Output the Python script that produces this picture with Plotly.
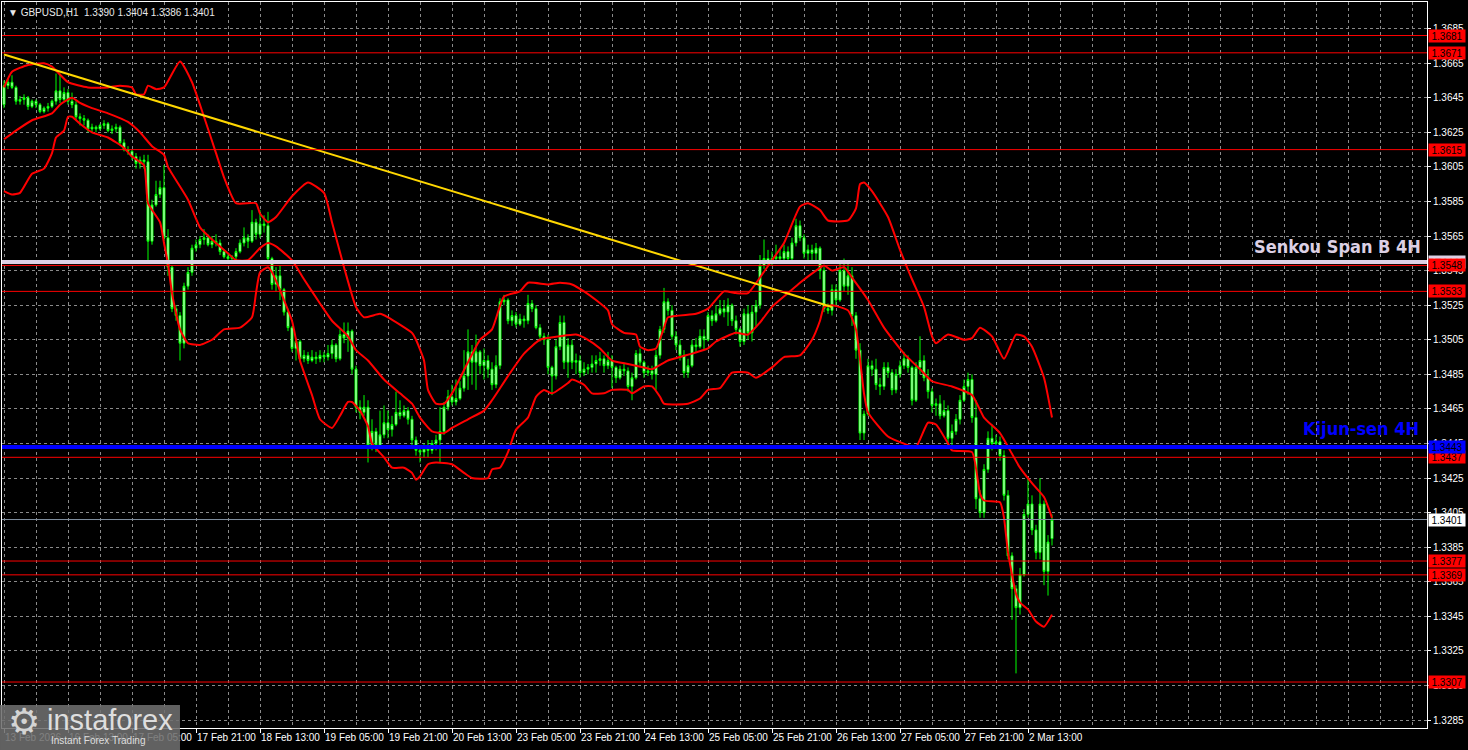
import plotly.graph_objects as go

# ---------------- data (GBPUSD H1) ----------------
opens = [
    1.3641,1.3652,1.3654,1.3651,1.3643,1.3644,1.3645,1.3640,1.3643,1.3641,
    1.3637,1.3639,1.3640,1.3643,1.3649,1.3644,1.3648,1.3643,1.3641,1.3634,
    1.3633,1.3632,1.3627,1.3628,1.3627,1.3629,1.3630,1.3626,1.3627,1.3628,
    1.3619,1.3615,1.3614,1.3611,1.3607,1.3609,1.3608,1.3562,1.3583,1.3589,
    1.3593,1.3564,1.3547,1.3523,1.3519,1.3503,1.3536,1.3544,1.3558,1.3560,
    1.3563,1.3564,1.3560,1.3562,1.3561,1.3556,1.3553,1.3552,1.3553,1.3556,
    1.3561,1.3564,1.3562,1.3573,1.3566,1.3572,1.3571,1.3552,1.3537,1.3542,
    1.3534,1.3521,1.3512,1.3500,1.3504,1.3494,1.3496,1.3493,1.3495,1.3494,
    1.3496,1.3495,1.3497,1.3502,1.3494,1.3508,1.3506,1.3510,1.3488,1.3466,
    1.3463,1.3466,1.3444,1.3452,1.3444,1.3450,1.3457,1.3453,1.3456,1.3463,
    1.3461,1.3464,1.3459,1.3447,1.3441,1.3440,1.3442,1.3441,1.3445,1.3447,
    1.3452,1.3466,1.3472,1.3469,1.3471,1.3477,1.3484,1.3498,1.3492,1.3498,
    1.3490,1.3493,1.3488,1.3479,1.3490,1.3527,1.3528,1.3516,1.3519,1.3514,
    1.3517,1.3516,1.3526,1.3523,1.3512,1.3507,1.3505,1.3489,1.3484,1.3501,
    1.3515,1.3492,1.3502,1.3492,1.3493,1.3486,1.3488,1.3489,1.3491,1.3493,
    1.3494,1.3490,1.3493,1.3489,1.3483,1.3488,1.3487,1.3478,1.3483,1.3497,
    1.3492,1.3486,1.3487,1.3485,1.3496,1.3511,1.3527,1.3522,1.3507,1.3502,
    1.3496,1.3486,1.3490,1.3502,1.3501,1.3507,1.3505,1.3519,1.3516,1.3520,
    1.3523,1.3521,1.3525,1.3516,1.3511,1.3504,1.3520,1.3509,1.3521,1.3525,
    1.3548,1.3552,1.3550,1.3552,1.3553,1.3552,1.3556,1.3552,1.3561,1.3571,
    1.3564,1.3555,1.3557,1.3555,1.3558,1.3545,1.3523,1.3522,1.3534,1.3528,
    1.3545,1.3536,1.3542,1.3519,1.3499,1.3451,1.3462,1.3490,1.3488,1.3479,
    1.3478,1.3489,1.3486,1.3476,1.3485,1.3490,1.3494,1.3489,1.3470,1.3489,
    1.3493,1.3483,1.3475,1.3467,1.3468,1.3461,1.3464,1.3448,1.3452,1.3459,
    1.3470,1.3478,1.3482,1.3460,1.3413,1.3405,1.3430,1.3448,1.3445,1.3446,
    1.3438,1.3415,1.3380,1.3361,1.3350,1.3369,1.3404,1.3410,1.3395,1.3382,
    1.3410,1.3371,1.3390,
]
highs = [
    1.3655,1.3656,1.3658,1.3652,1.3646,1.3647,1.3646,1.3644,1.3644,1.3642,
    1.3640,1.3642,1.3644,1.3659,1.3659,1.3651,1.3650,1.3648,1.3643,1.3636,
    1.3635,1.3633,1.3630,1.3629,1.3630,1.3632,1.3631,1.3629,1.3630,1.3629,
    1.3621,1.3617,1.3615,1.3613,1.3611,1.3612,1.3612,1.3586,1.3597,1.3597,
    1.3606,1.3569,1.3548,1.3525,1.3521,1.3538,1.3547,1.3560,1.3563,1.3565,
    1.3569,1.3566,1.3565,1.3566,1.3563,1.3557,1.3555,1.3554,1.3558,1.3563,
    1.3570,1.3566,1.3580,1.3575,1.3580,1.3577,1.3579,1.3553,1.3547,1.3548,
    1.3535,1.3523,1.3513,1.3506,1.3505,1.3499,1.3498,1.3499,1.3498,1.3499,
    1.3498,1.3502,1.3505,1.3503,1.3511,1.3515,1.3515,1.3511,1.3490,1.3470,
    1.3473,1.3470,1.3459,1.3454,1.3464,1.3467,1.3464,1.3461,1.3475,1.3470,
    1.3467,1.3466,1.3461,1.3449,1.3444,1.3445,1.3447,1.3447,1.3450,1.3466,
    1.3469,1.3476,1.3479,1.3482,1.3481,1.3499,1.3511,1.3502,1.3508,1.3499,
    1.3500,1.3496,1.3492,1.3496,1.3529,1.3531,1.3529,1.3522,1.3521,1.3520,
    1.3519,1.3531,1.3528,1.3525,1.3514,1.3509,1.3508,1.3490,1.3505,1.3519,
    1.3519,1.3506,1.3505,1.3497,1.3496,1.3492,1.3491,1.3496,1.3496,1.3498,
    1.3496,1.3498,1.3496,1.3490,1.3490,1.3491,1.3489,1.3486,1.3499,1.3500,
    1.3493,1.3490,1.3490,1.3499,1.3513,1.3535,1.3529,1.3525,1.3510,1.3505,
    1.3499,1.3494,1.3505,1.3506,1.3511,1.3511,1.3521,1.3522,1.3525,1.3528,
    1.3528,1.3529,1.3526,1.3519,1.3512,1.3523,1.3525,1.3525,1.3528,1.3554,
    1.3563,1.3557,1.3556,1.3560,1.3558,1.3560,1.3559,1.3564,1.3575,1.3574,
    1.3566,1.3560,1.3560,1.3561,1.3559,1.3547,1.3526,1.3537,1.3537,1.3551,
    1.3552,1.3551,1.3547,1.3521,1.3503,1.3464,1.3494,1.3493,1.3494,1.3483,
    1.3492,1.3492,1.3488,1.3488,1.3493,1.3498,1.3496,1.3490,1.3492,1.3507,
    1.3496,1.3488,1.3477,1.3471,1.3473,1.3470,1.3467,1.3456,1.3462,1.3473,
    1.3482,1.3486,1.3485,1.3470,1.3418,1.3433,1.3452,1.3456,1.3450,1.3449,
    1.3441,1.3418,1.3382,1.3363,1.3373,1.3407,1.3425,1.3415,1.3398,1.3425,
    1.3412,1.3392,1.3404,
]
lows = [
    1.3639,1.3650,1.3650,1.3641,1.3641,1.3641,1.3638,1.3639,1.3639,1.3636,
    1.3636,1.3637,1.3639,1.3641,1.3642,1.3643,1.3641,1.3639,1.3632,1.3629,
    1.3629,1.3625,1.3625,1.3625,1.3626,1.3627,1.3625,1.3624,1.3625,1.3618,
    1.3614,1.3612,1.3609,1.3604,1.3604,1.3604,1.3551,1.3560,1.3582,1.3587,
    1.3562,1.3542,1.3521,1.3516,1.3493,1.3500,1.3534,1.3542,1.3556,1.3558,
    1.3560,1.3559,1.3558,1.3559,1.3554,1.3552,1.3550,1.3549,1.3551,1.3555,
    1.3559,1.3558,1.3561,1.3563,1.3564,1.3567,1.3550,1.3534,1.3533,1.3528,
    1.3519,1.3510,1.3498,1.3493,1.3492,1.3492,1.3491,1.3492,1.3491,1.3492,
    1.3492,1.3493,1.3494,1.3492,1.3493,1.3503,1.3498,1.3485,1.3463,1.3459,
    1.3461,1.3434,1.3441,1.3440,1.3442,1.3448,1.3448,1.3449,1.3455,1.3459,
    1.3460,1.3456,1.3444,1.3438,1.3434,1.3437,1.3437,1.3439,1.3441,1.3434,
    1.3450,1.3464,1.3467,1.3467,1.3470,1.3475,1.3476,1.3479,1.3476,1.3485,
    1.3482,1.3483,1.3476,1.3477,1.3488,1.3525,1.3514,1.3513,1.3512,1.3513,
    1.3512,1.3514,1.3521,1.3511,1.3504,1.3502,1.3485,1.3473,1.3482,1.3499,
    1.3488,1.3483,1.3488,1.3485,1.3483,1.3484,1.3485,1.3486,1.3486,1.3490,
    1.3486,1.3488,1.3477,1.3480,1.3482,1.3484,1.3475,1.3470,1.3482,1.3490,
    1.3483,1.3484,1.3482,1.3476,1.3494,1.3509,1.3519,1.3505,1.3499,1.3493,
    1.3483,1.3483,1.3489,1.3498,1.3500,1.3499,1.3504,1.3513,1.3515,1.3519,
    1.3518,1.3513,1.3513,1.3508,1.3501,1.3502,1.3505,1.3504,1.3513,1.3523,
    1.3546,1.3548,1.3548,1.3550,1.3550,1.3551,1.3550,1.3551,1.3559,1.3562,
    1.3552,1.3551,1.3551,1.3550,1.3540,1.3521,1.3520,1.3519,1.3525,1.3527,
    1.3533,1.3531,1.3513,1.3494,1.3447,1.3447,1.3461,1.3484,1.3476,1.3473,
    1.3476,1.3483,1.3473,1.3474,1.3483,1.3488,1.3486,1.3467,1.3469,1.3485,
    1.3481,1.3471,1.3463,1.3461,1.3459,1.3460,1.3444,1.3442,1.3450,1.3456,
    1.3469,1.3473,1.3457,1.3407,1.3402,1.3402,1.3428,1.3441,1.3442,1.3435,
    1.3412,1.3378,1.3343,1.3312,1.3346,1.3368,1.3402,1.3392,1.3378,1.3378,
    1.3363,1.3357,1.3386,
]
closes = [
    1.3652,1.3654,1.3651,1.3643,1.3644,1.3645,1.3640,1.3643,1.3641,1.3637,
    1.3639,1.3640,1.3643,1.3649,1.3644,1.3648,1.3643,1.3641,1.3634,1.3633,
    1.3632,1.3627,1.3628,1.3627,1.3629,1.3630,1.3626,1.3627,1.3628,1.3619,
    1.3615,1.3614,1.3611,1.3607,1.3609,1.3608,1.3562,1.3583,1.3589,1.3593,
    1.3564,1.3547,1.3523,1.3519,1.3503,1.3536,1.3544,1.3558,1.3560,1.3563,
    1.3564,1.3560,1.3562,1.3561,1.3556,1.3553,1.3552,1.3553,1.3556,1.3561,
    1.3564,1.3562,1.3573,1.3566,1.3572,1.3571,1.3552,1.3537,1.3542,1.3534,
    1.3521,1.3512,1.3500,1.3504,1.3494,1.3496,1.3493,1.3495,1.3494,1.3496,
    1.3495,1.3497,1.3502,1.3494,1.3508,1.3506,1.3510,1.3488,1.3466,1.3463,
    1.3466,1.3444,1.3452,1.3444,1.3450,1.3457,1.3453,1.3456,1.3463,1.3461,
    1.3464,1.3459,1.3447,1.3441,1.3440,1.3442,1.3441,1.3445,1.3447,1.3452,
    1.3466,1.3472,1.3469,1.3471,1.3477,1.3484,1.3498,1.3492,1.3498,1.3490,
    1.3493,1.3488,1.3479,1.3490,1.3527,1.3528,1.3516,1.3519,1.3514,1.3517,
    1.3516,1.3526,1.3523,1.3512,1.3507,1.3505,1.3489,1.3484,1.3501,1.3515,
    1.3492,1.3502,1.3492,1.3493,1.3486,1.3488,1.3489,1.3491,1.3493,1.3494,
    1.3490,1.3493,1.3489,1.3483,1.3488,1.3487,1.3478,1.3483,1.3497,1.3492,
    1.3486,1.3487,1.3485,1.3496,1.3511,1.3527,1.3522,1.3507,1.3502,1.3496,
    1.3486,1.3490,1.3502,1.3501,1.3507,1.3505,1.3519,1.3516,1.3520,1.3523,
    1.3521,1.3525,1.3516,1.3511,1.3504,1.3520,1.3509,1.3521,1.3525,1.3548,
    1.3552,1.3550,1.3552,1.3553,1.3552,1.3556,1.3552,1.3561,1.3571,1.3564,
    1.3555,1.3557,1.3555,1.3558,1.3545,1.3523,1.3522,1.3534,1.3528,1.3545,
    1.3536,1.3542,1.3519,1.3499,1.3451,1.3462,1.3490,1.3488,1.3479,1.3478,
    1.3489,1.3486,1.3476,1.3485,1.3490,1.3494,1.3489,1.3470,1.3489,1.3493,
    1.3483,1.3475,1.3467,1.3468,1.3461,1.3464,1.3448,1.3452,1.3459,1.3470,
    1.3478,1.3482,1.3460,1.3413,1.3405,1.3430,1.3448,1.3445,1.3446,1.3438,
    1.3415,1.3380,1.3361,1.3350,1.3369,1.3404,1.3410,1.3395,1.3382,1.3410,
    1.3371,1.3388,1.3401,
]
bars = list(range(len(closes)))

# Bollinger-type envelope (bar index, price)
upper_x = [0,2,6,10,12,16,21,26,29,32,33,35,36,38,40,44,47,50,53,55,58,63,64,66,68,72,76,80,82,85,88,90,94,96,
           102,103,105,106,108,110,112,116,119,122,125,129,131,136,139,142,145,148,151,152,155,158,159,161,163,
           165,166,173,176,180,183,186,189,192,195,199,201,204,206,211,213,214,215,217,221,224,227,230,232,233,
           236,240,242,244,247,250,253,255,257,260,262]
upper_y = [1.3651,1.3660,1.3664,1.3665,1.3663,1.3654,1.3651,1.3651,1.3652,1.3651,1.3647,1.3647,1.3652,1.3650,
           1.3651,1.3666,1.3654,1.3634,1.3613,1.3599,1.3584,1.3584,1.3578,1.3573,1.3576,1.3588,1.3596,1.3590,
           1.3573,1.3547,1.3524,1.3518,1.3520,1.3518,1.3509,1.3505,1.3493,1.3476,1.3468,1.3468,1.3474,1.3492,
           1.3505,1.3511,1.3530,1.3533,1.3538,1.3537,1.3538,1.3537,1.3533,1.3528,1.3522,1.3514,1.3509,1.3508,
           1.3501,1.3499,1.3500,1.3512,1.3518,1.3520,1.3523,1.3533,1.3532,1.3532,1.3541,1.3551,1.3561,1.3582,
           1.3584,1.3580,1.3574,1.3574,1.3581,1.3595,1.3596,1.3591,1.3576,1.3557,1.3540,1.3524,1.3507,1.3503,
           1.3508,1.3505,1.3506,1.3512,1.3507,1.3494,1.3508,1.3507,1.3501,1.3483,1.3460]
middle_x = [0,3,7,12,14,17,19,22,26,31,34,37,40,41,46,49,52,56,58,61,64,66,68,72,75,79,82,86,88,91,95,99,102,
            104,107,110,112,116,120,122,126,130,134,139,143,146,149,152,156,160,162,166,169,172,176,178,183,186,
            189,192,196,199,203,205,207,210,212,216,220,225,229,232,237,242,245,249,252,254,257,260,262]
middle_y = [1.3621,1.3626,1.3632,1.3636,1.3641,1.3645,1.3642,1.3639,1.3636,1.3631,1.3625,1.3617,1.3612,1.3605,
            1.3586,1.3570,1.3563,1.3555,1.3551,1.3551,1.3558,1.3561,1.3559,1.3551,1.3540,1.3526,1.3516,1.3507,
            1.3499,1.3493,1.3482,1.3474,1.3468,1.3460,1.3452,1.3451,1.3454,1.3459,1.3464,1.3470,1.3484,1.3497,
            1.3505,1.3507,1.3508,1.3505,1.3500,1.3493,1.3491,1.3489,1.3488,1.3493,1.3495,1.3497,1.3500,1.3504,
            1.3509,1.3508,1.3515,1.3524,1.3532,1.3538,1.3545,1.3548,1.3545,1.3547,1.3541,1.3528,1.3512,1.3497,
            1.3488,1.3481,1.3478,1.3473,1.3460,1.3451,1.3439,1.3431,1.3422,1.3414,1.3402]
lower_x = [0,2,4,7,10,12,13,15,16,17,19,22,26,30,32,35,36,39,40,41,42,44,46,49,52,55,59,62,63,64,66,67,70,72,
           73,74,77,79,82,84,86,87,89,91,92,95,97,100,102,103,104,106,108,112,115,117,121,122,124,126,128,131,
           133,135,137,141,142,145,147,150,152,156,157,160,162,164,165,171,174,176,179,182,186,188,192,195,199,
           202,204,205,207,211,213,215,216,221,226,228,231,233,236,237,242,244,245,249,250,251,253,254,256,258,
           260,262]
lower_y = [1.3591,1.3589,1.3590,1.3601,1.3604,1.3613,1.3622,1.3626,1.3634,1.3634,1.3630,1.3625,1.3622,1.3616,
           1.3611,1.3606,1.3584,1.3573,1.3561,1.3549,1.3532,1.3511,1.3503,1.3502,1.3505,1.3511,1.3512,1.3518,
           1.3532,1.3544,1.3547,1.3544,1.3528,1.3516,1.3505,1.3493,1.3473,1.3459,1.3454,1.3461,1.3469,1.3469,
           1.3464,1.3455,1.3445,1.3437,1.3431,1.3431,1.3428,1.3424,1.3426,1.3433,1.3434,1.3433,1.3428,1.3425,
           1.3425,1.3430,1.3431,1.3440,1.3453,1.3460,1.3472,1.3476,1.3474,1.3480,1.3482,1.3479,1.3474,1.3474,
           1.3476,1.3476,1.3474,1.3478,1.3478,1.3472,1.3468,1.3468,1.3471,1.3476,1.3477,1.3486,1.3486,1.3483,
           1.3489,1.3495,1.3496,1.3505,1.3516,1.3524,1.3525,1.3522,1.3511,1.3474,1.3463,1.3449,1.3444,1.3443,
           1.3457,1.3456,1.3445,1.3441,1.3440,1.3416,1.3412,1.3411,1.3402,1.3382,1.3358,1.3353,1.3349,1.3342,
           1.3339,1.3346]

trend_x = [0, 207]
trend_y = [1.3670, 1.3524]

red_levels = [1.3681, 1.3671, 1.3615, 1.3548, 1.3533, 1.3437, 1.3377, 1.3369, 1.3307]
senkou_level = 1.3550
kijun_level = 1.3443
last_price = 1.3401

tick_bars = [0, 16, 32, 48, 64, 80, 96, 112, 128, 144, 160, 176, 192, 208, 224, 240, 256]
tick_text = ["13 Feb 2026", "16 Feb 13:00", "17 Feb 05:00", "17 Feb 21:00", "18 Feb 13:00",
             "19 Feb 05:00", "19 Feb 21:00", "20 Feb 13:00", "23 Feb 05:00", "23 Feb 21:00",
             "24 Feb 13:00", "25 Feb 05:00", "25 Feb 21:00", "26 Feb 13:00", "27 Feb 05:00",
             "27 Feb 21:00", "2 Mar 13:00"]
price_ticks = [round(1.3285 + 0.002 * k, 4) for k in range(21)]

# ---------------- figure ----------------
UI = "Liberation Sans, Arial, sans-serif"
BIG = "DejaVu Sans Condensed, DejaVu Sans, sans-serif"
RED = "#ff0000"
LIME = "#00ff00"

fig = go.Figure()

fig.add_trace(go.Candlestick(
    x=bars, open=opens, high=highs, low=lows, close=closes,
    increasing=dict(line=dict(color=LIME, width=1), fillcolor="#ffffff"),
    decreasing=dict(line=dict(color=LIME, width=1), fillcolor="#ffffff"),
    whiskerwidth=0, showlegend=False, hoverinfo="skip",
))

for bx, by in ((upper_x, upper_y), (middle_x, middle_y), (lower_x, lower_y)):
    fig.add_trace(go.Scatter(x=bx, y=by, mode="lines",
                             line=dict(color=RED, width=2, shape="spline", smoothing=0.5),
                             showlegend=False, hoverinfo="skip"))

fig.add_trace(go.Scatter(x=trend_x, y=trend_y, mode="lines",
                         line=dict(color="#ffd700", width=2),
                         showlegend=False, hoverinfo="skip"))

shapes = []
for lv in red_levels:
    shapes.append(dict(type="line", xref="paper", x0=0, x1=1, yref="y", y0=lv, y1=lv,
                       line=dict(color=RED, width=1), layer="above"))
shapes.append(dict(type="line", xref="paper", x0=0, x1=1, yref="y", y0=senkou_level, y1=senkou_level,
                   line=dict(color="#dcd0e4", width=4), layer="above"))
shapes.append(dict(type="line", xref="paper", x0=0, x1=1, yref="y", y0=kijun_level, y1=kijun_level,
                   line=dict(color="#0000ff", width=4), layer="above"))
shapes.append(dict(type="line", xref="paper", x0=0, x1=1, yref="y", y0=last_price, y1=last_price,
                   line=dict(color="#8090a0", width=1), layer="above"))
# logo background
shapes.append(dict(type="rect", xref="paper", yref="paper", x0=-0.0014, x1=0.1249, y0=-0.0303, y1=0.0317,
                   fillcolor="rgba(110,110,110,0.88)", line=dict(width=0), layer="above"))

annotations = []


def price_tag(level, bg, fg):
    annotations.append(dict(x=1, xref="paper", xanchor="left", xshift=1, y=level, yref="y",
                            text="%.4f" % level, showarrow=False, bgcolor=bg, borderpad=0,
                            width=36, height=12, align="center",
                            font=dict(family=UI, size=10, color=fg)))


price_tag(senkou_level, "#dcd0e4", "#ffffff")
for lv in red_levels:
    price_tag(lv, RED, "#000000")
price_tag(kijun_level, "#0000ff", "#000000")
price_tag(last_price, "#ffffff", "#000000")

annotations.append(dict(x=0.9972, xref="paper", xanchor="right", y=senkou_level, yref="y", yshift=15,
                        text="<b>Senkou Span B 4H</b>", showarrow=False,
                        font=dict(family=BIG, size=18, color="#dcd0e4")))
annotations.append(dict(x=0.9958, xref="paper", xanchor="right", y=kijun_level, yref="y", yshift=18,
                        text="<b>Kijun-sen 4H</b>", showarrow=False,
                        font=dict(family=BIG, size=18, color="#0000ff")))
annotations.append(dict(x=0.0028, xref="paper", xanchor="left", y=1, yref="paper", yanchor="top", yshift=-3,
                        text="\u25BC GBPUSD,H1  1.3390 1.3404 1.3386 1.3401", showarrow=False,
                        font=dict(family=UI, size=10, color="#e8e8e8")))
# logo texts
annotations.append(dict(x=0.0154, xref="paper", xanchor="center", y=0.0083, yref="paper", yanchor="middle",
                        text="\u2699", showarrow=False,
                        font=dict(family="DejaVu Sans", size=36, color="#d4d4d4")))
annotations.append(dict(x=0.0305, xref="paper", xanchor="left", y=0.011, yref="paper", yanchor="middle",
                        text="instaforex", showarrow=False,
                        font=dict(family=UI, size=29, color="#dedede")))
annotations.append(dict(x=0.033, xref="paper", xanchor="left", y=-0.0179, yref="paper", yanchor="middle",
                        text="Instant Forex Trading", showarrow=False,
                        font=dict(family=UI, size=10, color="#dedede")))

fig.update_layout(
    width=1468, height=750,
    margin=dict(l=2, r=41, t=2, b=22, autoexpand=False),
    paper_bgcolor="#000000", plot_bgcolor="#000000",
    font=dict(family=UI, size=10, color="#ffffff"),
    showlegend=False,
    shapes=shapes, annotations=annotations,
    xaxis=dict(
        range=[-0.5, 355.75], rangeslider=dict(visible=False),
        tickmode="array", tickvals=tick_bars, ticktext=tick_text,
        ticklabelposition="outside right", tickangle=0, automargin=False,
        ticks="outside", ticklen=4, tickcolor="#ffffff",
        tickfont=dict(family=UI, size=10, color="#ffffff"),
        showgrid=True, gridcolor="#8a8a8a", griddash="3px,3px", gridwidth=1,
        minor=dict(tick0=0, dtick=8, showgrid=True, gridcolor="#8a8a8a", griddash="3px,3px", ticks=""),
        showline=True, linecolor="#ffffff", linewidth=1, mirror=True, zeroline=False,
        fixedrange=True,
    ),
    yaxis=dict(
        range=[1.32804, 1.37004], side="right", automargin=False,
        tickmode="array", tickvals=price_ticks, ticktext=["%.4f" % v for v in price_ticks],
        ticks="outside", ticklen=3, tickcolor="#ffffff",
        tickfont=dict(family=UI, size=10, color="#ffffff"),
        showgrid=True, gridcolor="#8a8a8a", griddash="3px,3px", gridwidth=1,
        showline=True, linecolor="#ffffff", linewidth=1, mirror=True, zeroline=False,
        fixedrange=True,
    ),
)

fig.write_html("out.html", config={"displayModeBar": False},
               post_script="document.body.style.margin='0px';")
